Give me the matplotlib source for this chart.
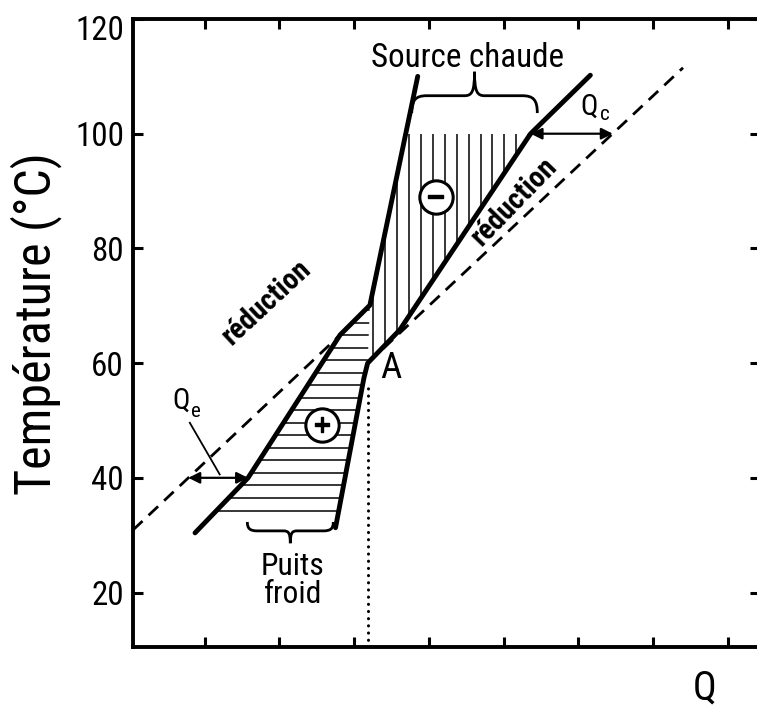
import numpy as np
import matplotlib
matplotlib.use("Agg")
import matplotlib.pyplot as plt
from matplotlib import font_manager as fm
from matplotlib.path import Path
from matplotlib.patches import PathPatch, Polygon
import matplotlib.transforms as mtrans
import matplotlib.patheffects as pe

# ---------------- data ----------------
# composite curve on the left (cold side, ends as the steep hot-source line)
left_Q = [0.87, 1.58, 2.81, 3.21, 3.85]
left_T = [30.4, 40.0, 64.9, 70.1, 110.0]
# composite curve on the right (passes through the pinch A)
right_Q = [2.75, 3.13, 3.18, 3.61, 5.36, 6.16]
right_T = [31.3, 57.4, 60.0, 65.8, 100.0, 110.2]
# dashed "réduction" lines
red_left_Q = [0.04, 2.81]
red_left_T = [30.9, 64.9]
red_right_Q = [3.18, 7.40]
red_right_T = [60.0, 111.5]
# pinch point A
pinch_Q, pinch_T = 3.18, 60.0
# heat-flow arrows
Qe_Q = [0.78, 1.58]
Qe_T = 40.0
Qc_Q = [5.36, 6.46]
Qc_T = 100.0
Qe_leader_Q = [0.80, 1.20]
Qe_leader_T = [49.6, 40.6]
# hatched zones limits
minus_Tmax = 100.0
plus_Tmin = 34.3
# braces (x0, x1, base T, tip T)
brace_hot = (3.77, 5.45, 103.6, 110.8)
brace_cold = (1.57, 2.72, 32.3, 28.6)
# axes
x_ticks = [1, 2, 3, 4, 5, 6, 7, 8]
y_ticks = [20, 40, 60, 80, 100, 120]
y_ticklabels = ["20", "40", "60", "80", "100", "120"]
xlim = (0.04, 8.43)
ylim = (10.5, 120.0)

# ---------------- fonts ----------------
names = {f.name for f in fm.fontManager.ttflist}
cond = [f for f in fm.fontManager.ttflist
        if f.name == "DejaVu Sans" and "condensed" in str(f.stretch)]
if "Liberation Sans Narrow" in names:
    FAM, STR, K = ["Liberation Sans Narrow", "DejaVu Sans"], "normal", 1.0
elif "Roboto Condensed" in names:
    FAM, STR, K = ["Roboto Condensed", "DejaVu Sans"], "normal", 0.95
elif cond:
    FAM, STR, K = ["DejaVu Sans"], "condensed", 0.9
else:
    FAM, STR, K = ["DejaVu Sans"], "normal", 0.8
plt.rcParams["font.family"] = FAM
plt.rcParams["font.stretch"] = STR

fig = plt.figure(figsize=(7.57, 7.10), dpi=100)
ax = fig.add_axes([133 / 757, 63 / 710, 627 / 757, 628 / 710])
ax.set_xlim(*xlim)
ax.set_ylim(*ylim)

# ---------------- hatching ----------------
lq, lt = np.array(left_Q), np.array(left_T)
rq, rt = np.array(right_Q), np.array(right_T)

m_l = lt > pinch_T
m_r = rt > pinch_T
verts_minus = [(pinch_Q, pinch_T)] + list(zip(lq[m_l], lt[m_l])) + \
    list(zip(rq[m_r][::-1], rt[m_r][::-1]))
clip_minus = Polygon(verts_minus, closed=True, transform=ax.transData)

m_l2 = lt < minus_Tmax - 20
m_r2 = rt < pinch_T
verts_plus = list(zip(lq[m_l2], lt[m_l2])) + [(pinch_Q, pinch_T)] + \
    list(zip(rq[m_r2][::-1], rt[m_r2][::-1]))
clip_plus = Polygon(verts_plus, closed=True, transform=ax.transData)

xs = np.arange(pinch_Q + 0.07, max(rq), 0.16)
vl = ax.vlines(xs, pinch_T - 2, minus_Tmax, colors="k", lw=1.1, zorder=2)
vl.set_clip_path(clip_minus)

ys = np.arange(plus_Tmin, lt[m_l2].max() + 0.5, 2.18)
hl = ax.hlines(ys, min(lq) - 0.1, pinch_Q + 0.2, colors="k", lw=1.1, zorder=2)
hl.set_clip_path(clip_plus)

# ---------------- lines ----------------
ax.plot(red_left_Q, red_left_T, color="k", lw=2.0, ls=(0, (4.7, 3.0)), zorder=3)
ax.plot(red_right_Q, red_right_T, color="k", lw=2.0, ls=(0, (4.7, 3.0)), zorder=3)
ax.plot(left_Q, left_T, color="k", lw=3.5, solid_capstyle="round",
        solid_joinstyle="round", zorder=4)
ax.plot(right_Q, right_T, color="k", lw=3.5, solid_capstyle="round",
        solid_joinstyle="round", zorder=4)
ax.plot([pinch_Q, pinch_Q], [ylim[0], pinch_T - 4], color="k", lw=2.2,
        ls=(0, (0.05, 2.3)), dash_capstyle="round", zorder=3)

# arrows
arrow_kw = dict(arrowstyle="<|-|>", lw=1.6, color="k", mutation_scale=17,
                shrinkA=0, shrinkB=0)
ax.annotate("", xy=(Qe_Q[0], Qe_T), xytext=(Qe_Q[1], Qe_T), arrowprops=arrow_kw)
ax.annotate("", xy=(Qc_Q[0], Qc_T), xytext=(Qc_Q[1], Qc_T), arrowprops=arrow_kw)
ax.plot(Qe_leader_Q, Qe_leader_T, color="k", lw=1.3)


# braces
def brace(b, vflat=0.42):
    x0, x1, yb, ytip = b
    w = x1 - x0
    h = ytip - yb
    um = 0.5
    pts = [(0, 0), (0, 0.75 * vflat), (0.03, vflat), (0.12, vflat),
           (um - 0.08, vflat),
           (um - 0.02, vflat), (um, vflat + 0.1), (um, 1.0),
           (um, vflat + 0.1), (um + 0.02, vflat), (um + 0.08, vflat),
           (0.88, vflat),
           (0.97, vflat), (1.0, 0.75 * vflat), (1.0, 0)]
    codes = [Path.MOVETO, Path.CURVE4, Path.CURVE4, Path.CURVE4, Path.LINETO,
             Path.CURVE4, Path.CURVE4, Path.CURVE4,
             Path.CURVE4, Path.CURVE4, Path.CURVE4, Path.LINETO,
             Path.CURVE4, Path.CURVE4, Path.CURVE4]
    verts = [(x0 + u * w, yb + v * h) for u, v in pts]
    ax.add_patch(PathPatch(Path(verts, codes), fill=False, lw=2.0, color="k",
                           zorder=4))


brace(brace_hot)
brace(brace_cold)

# circled signs
for (cx, cy), sym in (((4.09, 89.0), "\u2212"), ((2.57, 49.2), "+")):
    ax.plot(cx, cy, marker="o", ms=24, mfc="white", mec="k", mew=2.2, zorder=5)
    ax.text(cx, cy, sym, ha="center", va="center", fontsize=17,
            family="DejaVu Sans", fontweight="bold", zorder=6,
            path_effects=[pe.withStroke(linewidth=1.0, foreground="k")])

# ---------------- texts ----------------
ax.text(4.52, 113.2, "Source chaude", ha="center", va="center", fontsize=25 * K)
ax.text(2.18, 22.1, "Puits\nfroid", ha="center", va="center", fontsize=24 * K,
        linespacing=0.95)
ax.text(1.82, 70.5, "réduction", ha="center", va="center", rotation=43,
        rotation_mode="anchor", fontsize=22 * K, fontweight="bold")
ax.text(5.14, 88.1, "réduction", ha="center", va="center", rotation=46,
        rotation_mode="anchor", fontsize=22 * K, fontweight="bold")
ax.text(3.49, 59.1, "A", ha="center", va="center", fontsize=28 * K)
ax.text(0.68, 53.4, "Q", ha="center", va="center", fontsize=22 * K)
ax.text(0.88, 51.6, "e", ha="center", va="center", fontsize=16 * K)
ax.text(6.14, 104.7, "Q", ha="center", va="center", fontsize=22 * K)
ax.text(6.36, 103.3, "c", ha="center", va="center", fontsize=16 * K)

# ---------------- axes styling ----------------
for s in ax.spines.values():
    s.set_linewidth(2.8)
ax.set_xticks(x_ticks)
ax.set_xticklabels([])
ax.set_yticks(y_ticks)
ax.set_yticklabels(y_ticklabels)
ax.tick_params(axis="both", which="both", direction="in", length=7.5, width=2.2,
               top=True, right=True, labelsize=25 * K, pad=6.5)
ax.set_ylabel("Température (°C)", fontsize=38 * K, va="center")
ax.yaxis.set_label_coords(-0.155, 0.515)
ax.set_xlabel("Q", fontsize=30 * K)
ax.xaxis.set_label_coords(0.912, -0.035)

fig.canvas.draw()
lbl = ax.get_yticklabels()[-1]
lbl.set_transform(lbl.get_transform() +
                  mtrans.ScaledTranslation(0, -8 / 100, fig.dpi_scale_trans))

fig.savefig("out.png", dpi=100)
